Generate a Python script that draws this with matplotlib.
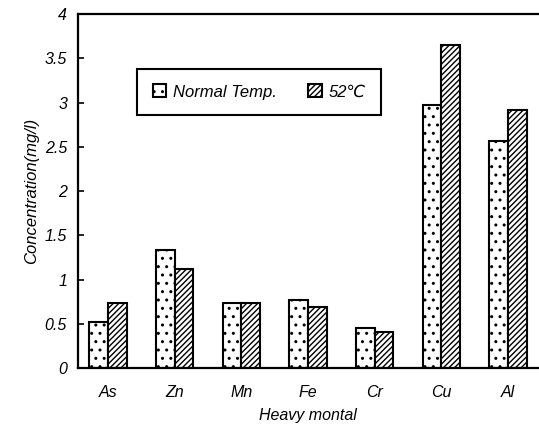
import numpy as np
import matplotlib.pyplot as plt
import matplotlib.patches as mpatches

plt.rcParams['font.family'] = ['Liberation Sans', 'DejaVu Sans']
plt.rcParams['hatch.linewidth'] = 1.0

# Data
metals = ['As', 'Zn', 'Mn', 'Fe', 'Cr', 'Cu', 'Al']
normal_temp = [0.52, 1.33, 0.74, 0.77, 0.45, 2.97, 2.57]
temp_52 = [0.74, 1.12, 0.73, 0.69, 0.41, 3.65, 2.92]
yticks = [0, 0.5, 1, 1.5, 2, 2.5, 3, 3.5, 4]
ytick_labels = ['0', '0.5', '1', '1.5', '2', '2.5', '3', '3.5', '4']

fig = plt.figure(figsize=(5.39, 4.30), dpi=100)
ax = fig.add_axes([0.145, 0.144, 0.853, 0.823])

x = np.arange(len(metals))
w = 0.28
ax.bar(x - w / 2, normal_temp, w, facecolor='white', edgecolor='black',
       hatch='..', linewidth=1.5)
ax.bar(x + w / 2, temp_52, w, facecolor='white', edgecolor='black',
       hatch='//////', linewidth=1.5)

ax.set_xlim(-0.45, 6.45)
ax.set_ylim(0, 4)
ax.set_yticks(yticks)
ax.set_yticklabels(ytick_labels, fontstyle='italic', fontsize=11.5)
ax.set_xticks(x)
ax.set_xticklabels(metals, fontstyle='italic', fontsize=11.5)
ax.tick_params(axis='y', direction='in', length=4, width=1.2, pad=8)
ax.tick_params(axis='x', length=0, pad=12)

for s in ['left', 'top', 'bottom']:
    ax.spines[s].set_linewidth(1.6)
ax.spines['right'].set_visible(False)

ax.set_xlabel('Heavy montal', fontstyle='italic', fontsize=11.5, labelpad=6)
ax.set_ylabel('Concentration(mg/l)', fontstyle='italic', fontsize=12, labelpad=4)

h1 = mpatches.Patch(facecolor='white', edgecolor='black', hatch='..', linewidth=1.5)
h2 = mpatches.Patch(facecolor='white', edgecolor='black', hatch='//////', linewidth=1.5)
leg = ax.legend([h1, h2], ['Normal Temp.', '52\u2103'], ncol=2,
                loc='upper left', bbox_to_anchor=(0.11, 0.87),
                fancybox=False, edgecolor='black', framealpha=1,
                prop={'style': 'italic', 'size': 12},
                handlelength=0.8, handleheight=0.8, columnspacing=1.9,
                borderpad=0.95, handletextpad=0.4)
leg.get_frame().set_linewidth(1.5)

fig.savefig('out.png', dpi=100)
